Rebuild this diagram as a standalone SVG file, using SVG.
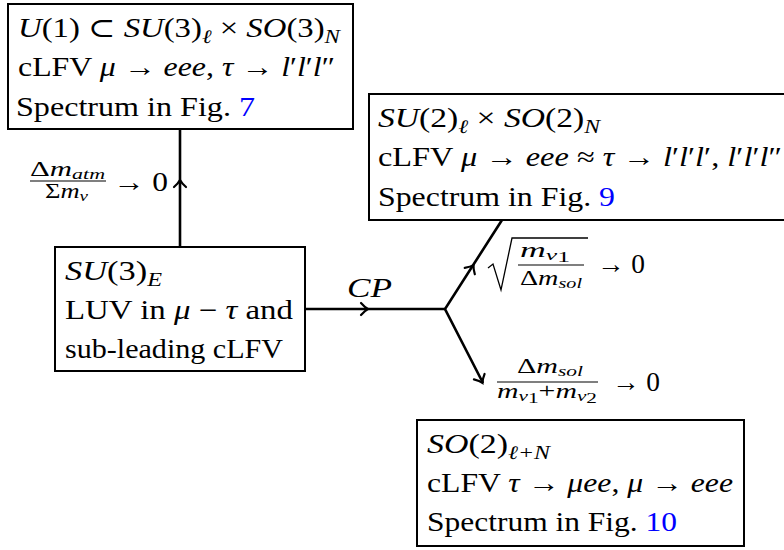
<svg xmlns="http://www.w3.org/2000/svg" width="784" height="550" viewBox="0 0 784 550">
<style>
text{font-family:"Liberation Serif","Times New Roman","DejaVu Serif",serif;font-size:27px;fill:#000}
.i{font-style:italic}
.s{font-size:19px}
.f{font-size:21px}
.fs{font-size:15px}
.blue{fill:#0000ff}
.box{fill:#fff;stroke:#000;stroke-width:2}
.ln{fill:none;stroke:#000;stroke-width:2.6}
.ah{fill:none;stroke:#000;stroke-width:2.2;stroke-linecap:round}
.rad{fill:none;stroke:#000;stroke-width:1.3}
.bar{stroke:#000;stroke-width:1.2}
</style>
<defs>
<path id="ah" class="ah" d="M-6,-6 Q-2,-1.5 1,0 Q-2,1.5 -6,6"/>
</defs>
<g id="connectors">
<line class="ln" x1="180" y1="247" x2="180" y2="129"/>
<line class="ln" x1="305" y1="309" x2="445" y2="309"/>
<polyline class="ln" points="502,220 445,309 483,383"/>
<use href="#ah" transform="translate(180,181) rotate(-90)"/>
<use href="#ah" transform="translate(367,309)"/>
<use href="#ah" transform="translate(473,266) rotate(-57.4)"/>
<use href="#ah" transform="translate(482,382) rotate(62.8)"/>
</g>
<g id="label-atm">
<text class="f" x="30" y="176" textLength="75" lengthAdjust="spacingAndGlyphs">Δ<tspan class="i">m</tspan><tspan class="fs i" dy="3">atm</tspan></text>
<line class="bar" x1="30" y1="181" x2="106" y2="181"/>
<text class="f" x="45" y="198" textLength="43" lengthAdjust="spacingAndGlyphs">Σ<tspan class="i">m</tspan><tspan class="fs i" dy="3">ν</tspan></text>
<text x="113" y="191" textLength="55" lengthAdjust="spacingAndGlyphs">→ 0</text>
</g>
<g id="label-cp">
<text class="i" x="347" y="297" textLength="45" lengthAdjust="spacingAndGlyphs">CP</text>
</g>
<g id="label-sqrt">
<path class="rad" d="M488,268 L493,264 L501,290 L512,238 L588,238"/>
<text class="f" x="520" y="257" textLength="50" lengthAdjust="spacingAndGlyphs"><tspan class="i">m</tspan><tspan class="fs i" dy="3">ν</tspan><tspan class="fs" dy="2">1</tspan></text>
<line class="bar" x1="518" y1="265" x2="584" y2="265"/>
<text class="f" x="520" y="285" textLength="62" lengthAdjust="spacingAndGlyphs">Δ<tspan class="i">m</tspan><tspan class="fs i" dy="3">sol</tspan></text>
<text x="597" y="273" textLength="48" lengthAdjust="spacingAndGlyphs">→ 0</text>
</g>
<g id="label-sol">
<text class="f" x="517" y="373" textLength="66" lengthAdjust="spacingAndGlyphs">Δ<tspan class="i">m</tspan><tspan class="fs i" dy="3">sol</tspan></text>
<line class="bar" x1="497" y1="382" x2="598" y2="382"/>
<text class="f" x="497" y="398" textLength="100" lengthAdjust="spacingAndGlyphs"><tspan class="i">m</tspan><tspan class="fs i" dy="3">ν</tspan><tspan class="fs" dy="2">1</tspan><tspan dy="-5">+</tspan><tspan class="i">m</tspan><tspan class="fs i" dy="3">ν</tspan><tspan class="fs" dy="2">2</tspan></text>
<text x="612" y="391" textLength="48" lengthAdjust="spacingAndGlyphs">→ 0</text>
</g>
<g id="node-u1">
<rect class="box" x="8" y="4" width="345" height="125"/>
<text x="18" y="37" textLength="322" lengthAdjust="spacingAndGlyphs"><tspan class="i">U</tspan>(1) ⊂ <tspan class="i">SU</tspan>(3)<tspan class="s i" dy="6">ℓ</tspan><tspan dy="-6"> × </tspan><tspan class="i">SO</tspan>(3)<tspan class="s i" dy="6">N</tspan></text>
<text x="18" y="76" textLength="317" lengthAdjust="spacingAndGlyphs">cLFV <tspan class="i">μ</tspan> → <tspan class="i">eee</tspan>, <tspan class="i">τ</tspan> → <tspan class="i">l</tspan>′<tspan class="i">l</tspan>′<tspan class="i">l</tspan>″</text>
<text x="16" y="116" textLength="239" lengthAdjust="spacingAndGlyphs">Spectrum in Fig. <tspan class="blue">7</tspan></text>
</g>
<g id="node-su2">
<rect class="box" x="369" y="94" width="430" height="126"/>
<text x="378" y="127" textLength="222" lengthAdjust="spacingAndGlyphs"><tspan class="i">SU</tspan>(2)<tspan class="s i" dy="6">ℓ</tspan><tspan dy="-6"> × </tspan><tspan class="i">SO</tspan>(2)<tspan class="s i" dy="6">N</tspan></text>
<text x="378" y="166" textLength="404" lengthAdjust="spacingAndGlyphs">cLFV <tspan class="i">μ</tspan> → <tspan class="i">eee</tspan> ≈ <tspan class="i">τ</tspan> → <tspan class="i">l</tspan>′<tspan class="i">l</tspan>′<tspan class="i">l</tspan>′, <tspan class="i">l</tspan>′<tspan class="i">l</tspan>′<tspan class="i">l</tspan>″</text>
<text x="378" y="206" textLength="237" lengthAdjust="spacingAndGlyphs">Spectrum in Fig. <tspan class="blue">9</tspan></text>
</g>
<g id="node-su3e">
<rect class="box" x="55" y="247" width="250" height="124"/>
<text x="65" y="280" textLength="97" lengthAdjust="spacingAndGlyphs"><tspan class="i">SU</tspan>(3)<tspan class="s i" dy="6">E</tspan></text>
<text x="65" y="319" textLength="228" lengthAdjust="spacingAndGlyphs">LUV in <tspan class="i">μ</tspan> − <tspan class="i">τ</tspan> and</text>
<text x="65" y="358" textLength="218" lengthAdjust="spacingAndGlyphs">sub-leading cLFV</text>
</g>
<g id="node-so2">
<rect class="box" x="417" y="420" width="327" height="126"/>
<text x="427" y="453" textLength="123" lengthAdjust="spacingAndGlyphs"><tspan class="i">SO</tspan>(2)<tspan class="s i" dy="6">ℓ+N</tspan></text>
<text x="427" y="492" textLength="306" lengthAdjust="spacingAndGlyphs">cLFV <tspan class="i">τ</tspan> → <tspan class="i">μee</tspan>, <tspan class="i">μ</tspan> → <tspan class="i">eee</tspan></text>
<text x="427" y="531" textLength="250" lengthAdjust="spacingAndGlyphs">Spectrum in Fig. <tspan class="blue">10</tspan></text>
</g>
</svg>
